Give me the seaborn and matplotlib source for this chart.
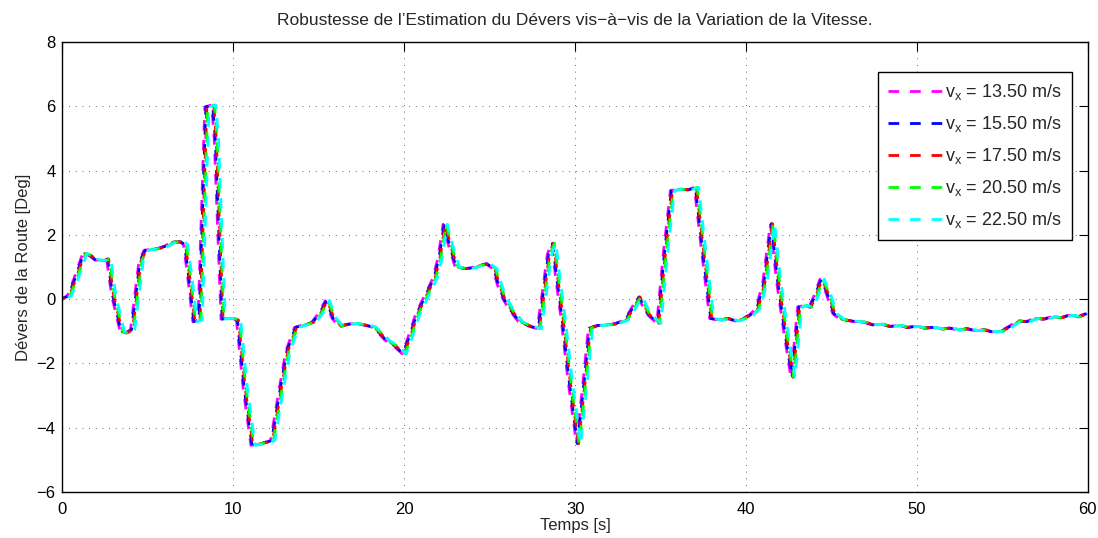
import numpy as np
import pandas as pd
import matplotlib
matplotlib.use("Agg")
import matplotlib.pyplot as plt
import seaborn as sns

# Road bank angle estimate (deg) versus time (s), reference run
temps = [
    0.0, 0.4, 0.8, 1.3, 1.7, 2.0, 2.5, 2.7, 3.0, 3.5, 3.8, 4.1, 4.6, 4.9, 5.3,
    5.7, 6.1, 6.5, 7.0, 7.2, 7.4, 7.75, 8.05, 8.45, 8.85, 9.0, 9.4, 9.7, 10.0,
    10.3, 10.7, 11.15, 11.6, 12.0, 12.3, 12.8, 13.2, 13.7, 14.2, 14.7, 15.1,
    15.5, 15.9, 16.3, 16.8, 17.2, 17.7, 18.2, 18.6, 19.0, 19.5, 20.0, 20.4,
    20.8, 21.3, 21.8, 22.1, 22.4, 22.7, 23.1, 23.6, 24.0, 24.5, 24.9, 25.3,
    25.6, 25.9, 26.3, 26.8, 27.3, 27.9, 28.2, 28.5, 28.75, 29.0, 29.3, 29.7,
    30.2, 30.6, 30.9, 31.4, 31.9, 32.4, 33.0, 33.4, 33.8, 34.3, 34.9, 35.3,
    35.7, 36.2, 36.7, 37.1, 37.5, 38.0, 38.5, 39.0, 39.5, 39.9, 40.3, 40.7,
    41.1, 41.55, 41.9, 42.3, 42.75, 43.15, 43.5, 43.8, 44.1, 44.45, 44.8,
    45.2, 45.6, 46.0, 46.5, 47.0, 47.5, 48.0, 48.5, 49.0, 49.5, 50.0, 50.5,
    51.0, 51.5, 52.0, 52.5, 53.0, 53.5, 54.0, 54.5, 55.0, 55.5, 56.0, 56.5,
    57.0, 57.5, 58.0, 58.5, 59.0, 59.5, 60.0,
]
devers = [
    0.0, 0.1, 0.65, 1.42, 1.35, 1.22, 1.2, 1.25, 0.1, -1.02, -1.05, -0.95,
    1.2, 1.52, 1.55, 1.58, 1.65, 1.78, 1.78, 1.7, 0.9, -0.7, -0.65, 5.98,
    6.04, 5.0, -0.62, -0.6, -0.6, -0.65, -2.8, -4.55, -4.5, -4.45, -4.4,
    -2.8, -1.6, -0.88, -0.8, -0.72, -0.45, -0.05, -0.6, -0.84, -0.78, -0.76,
    -0.8, -0.86, -1.05, -1.28, -1.45, -1.7, -1.1, -0.45, 0.1, 0.65, 1.3,
    2.33, 1.7, 1.0, 0.95, 0.97, 1.05, 1.1, 0.95, 0.4, 0.0, -0.35, -0.7,
    -0.82, -0.92, 0.2, 1.4, 1.74, 0.6, -0.6, -2.5, -4.5, -2.5, -0.9, -0.82,
    -0.8, -0.77, -0.65, -0.3, 0.07, -0.45, -0.75, 1.5, 3.38, 3.42, 3.4,
    3.48, 1.6, -0.6, -0.65, -0.6, -0.68, -0.6, -0.5, -0.3, 0.5, 2.35, 0.6,
    -0.9, -2.43, -0.24, -0.2, -0.25, 0.1, 0.62, 0.2, -0.45, -0.62, -0.66,
    -0.7, -0.72, -0.8, -0.78, -0.85, -0.82, -0.88, -0.85, -0.9, -0.88,
    -0.93, -0.9, -0.96, -0.92, -0.98, -0.95, -1.02, -1.0, -0.85, -0.68,
    -0.7, -0.6, -0.62, -0.55, -0.58, -0.5, -0.55, -0.45,
]

# One run per vehicle speed; each estimate lags slightly with speed
vitesses = [13.50, 15.50, 17.50, 20.50, 22.50]
retards = [-0.12, -0.06, 0.0, 0.05, 0.13]
couleurs = ["#ff00ff", "#0000ff", "#ff0000", "#00ff00", "#00ffff"]

rows = []
for v, r in zip(vitesses, retards):
    label = r"$\mathregular{v_x}$" + f" = {v:.2f} m/s"
    for t, d in zip(temps, devers):
        rows.append({"t": t + r, "devers": d, "serie": label})
df = pd.DataFrame(rows)

sns.set_theme(style="white")
plt.rcParams["font.family"] = ["Liberation Sans", "DejaVu Sans"]
plt.rcParams["mathtext.fontset"] = "custom"
plt.rcParams["mathtext.rm"] = "Liberation Sans"

fig = plt.figure(figsize=(10.98, 5.38), dpi=100)
ax = fig.add_axes([0.0569, 0.0855, 0.9337, 0.8364])

labels = list(dict.fromkeys(df["serie"]))
for lab, col in zip(labels, couleurs):
    sub = df[df["serie"] == lab]
    sns.lineplot(data=sub, x="t", y="devers", ax=ax, color=col, label=lab,
                 sort=False, estimator=None, linewidth=2.0, linestyle="--")
# stagger the dash phase of each run so the overlapping curves read as one band
for i, line in enumerate(ax.lines):
    line.set_linestyle((i * 1.45, (3.8, 3.4)))

ax.set_xlim(0, 60)
ax.set_ylim(-6, 8)
ax.set_xticks(np.arange(0, 61, 10))
ax.set_yticks(np.arange(-6, 9, 2))
ax.set_yticklabels([f"{v}".replace("-", "\u2212") for v in range(-6, 9, 2)])

ax.grid(True, color="#333333", linestyle=(0, (1, 7)), linewidth=0.6)
ax.tick_params(direction="in", length=6.5, width=0.8, top=True, right=True,
               labelsize=12, colors="black", pad=5)
ax.tick_params(axis="x", pad=7)
for s in ax.spines.values():
    s.set_visible(True)
    s.set_color("black")
    s.set_linewidth(1.0)

ax.set_xlabel("Temps [s]", fontsize=12, labelpad=1)
ax.set_ylabel("Dévers de la Route [Deg]", fontsize=12, labelpad=4)
ax.set_title("Robustesse de l\u2019Estimation du Dévers vis\u2212à\u2212vis de la "
             "Variation de la Vitesse.", fontsize=12.5, pad=12)

leg = ax.legend(loc="upper right", bbox_to_anchor=(0.985, 0.9327),
                fontsize=13, frameon=True, fancybox=False, framealpha=1,
                edgecolor="black", handlelength=3.0, handletextpad=0.2,
                borderpad=0.55, labelspacing=0.66, borderaxespad=0)
leg.get_frame().set_linewidth(1.0)
for h in leg.get_lines():
    h.set_linestyle((0, (3.85, 3.9)))

fig.savefig("out.png", dpi=100)
